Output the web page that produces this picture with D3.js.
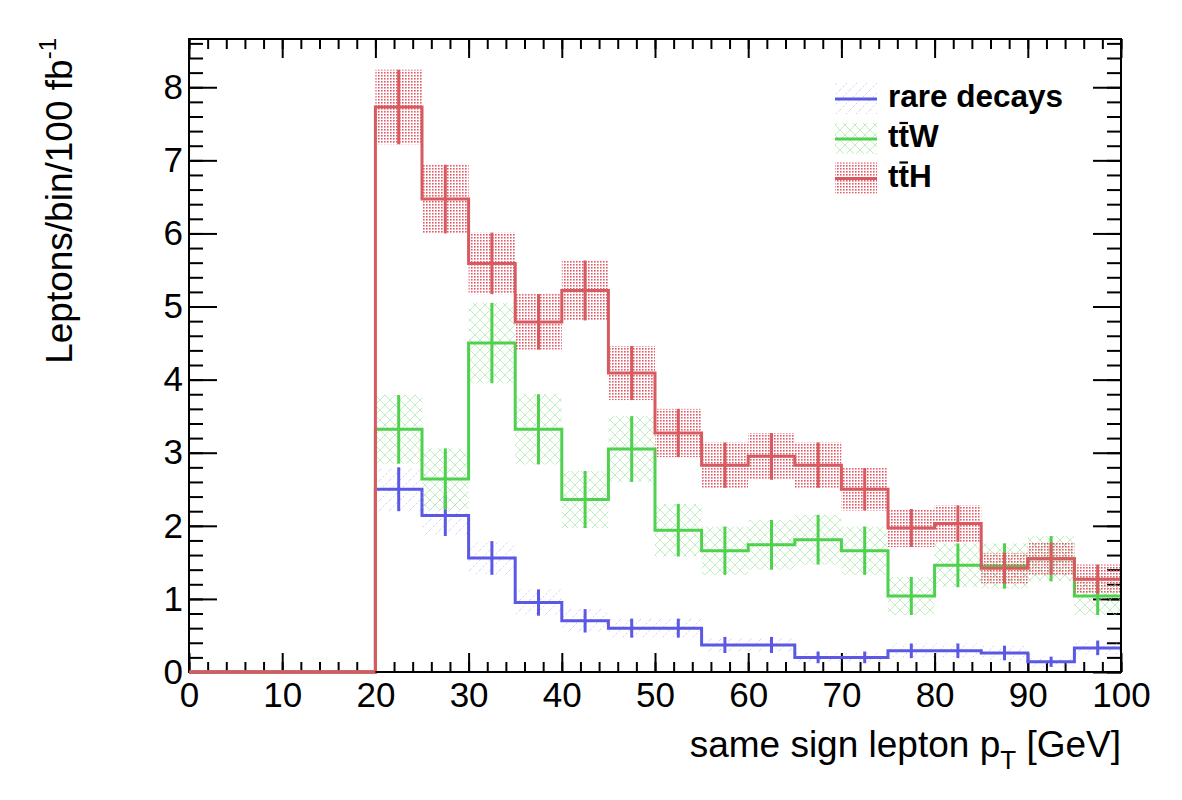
<!DOCTYPE html>
<html><head><meta charset="utf-8">
<script src="https://cdn.jsdelivr.net/npm/d3@7"></script>
<style>
body{margin:0;background:#fff;}
text{font-family:"Liberation Sans",Arial,Helvetica,sans-serif;}
</style></head>
<body><svg id="c" width="1182" height="800"></svg>
<script>
// ---- data ----
const binEdges = [0,5,10,15,20,25,30,35,40,45,50,55,60,65,70,75,80,85,90,95,100];
const rareVals = [0,0,0,0,2.50,2.14,1.56,0.95,0.70,0.60,0.60,0.37,0.37,0.20,0.20,0.29,0.29,0.26,0.14,0.33];
const rareErrs = [0,0,0,0,0.30,0.28,0.23,0.18,0.16,0.13,0.13,0.11,0.11,0.08,0.08,0.10,0.10,0.10,0.07,0.10];
const ttwVals  = [0,0,0,0,3.32,2.64,4.50,3.32,2.36,3.05,1.94,1.66,1.74,1.81,1.66,1.04,1.46,1.45,1.55,1.04];
const ttwErrs  = [0,0,0,0,0.47,0.42,0.55,0.48,0.39,0.45,0.36,0.33,0.34,0.34,0.33,0.26,0.30,0.31,0.31,0.26];
const tthVals  = [0,0,0,0,7.73,6.47,5.59,4.79,5.22,4.09,3.27,2.83,2.95,2.83,2.50,1.97,2.03,1.42,1.55,1.27];
const tthErrs  = [0,0,0,0,0.51,0.47,0.42,0.38,0.41,0.37,0.33,0.31,0.32,0.31,0.29,0.26,0.25,0.21,0.22,0.20];
const seriesNames = ["rare decays","ttW","ttH"];
const xTicks = [0,10,20,30,40,50,60,70,80,90,100];
const yTicks = [0,1,2,3,4,5,6,7,8];
const xTitle = "same sign lepton p";
const yTitle = "Leptons/bin/100 fb";

// ---- layout ----
const L=189,R=1121,T=39,B=672;
const svg=d3.select("#c");
const x=d3.scaleLinear().domain([0,100]).range([L,R]);
const y=d3.scaleLinear().domain([0,8.66]).range([B,T]);

const defs=svg.append("defs");
const pb=defs.append("pattern").attr("id","pBlue").attr("patternUnits","userSpaceOnUse").attr("width",10).attr("height",10);
pb.append("path").attr("d","M0,10L10,0M-2,2L2,-2M8,12L12,8").attr("stroke","#9a9aec").attr("stroke-width",0.8).attr("stroke-dasharray","2,2").attr("fill","none").attr("opacity",0.6);
const pg=defs.append("pattern").attr("id","pGreen").attr("patternUnits","userSpaceOnUse").attr("width",10).attr("height",10);
pg.append("path").attr("d","M0,0L10,10M10,0L0,10").attr("stroke","#8fe08f").attr("stroke-width",0.8).attr("fill","none").attr("opacity",0.7);
const pr=defs.append("pattern").attr("id","pRed").attr("patternUnits","userSpaceOnUse").attr("width",3).attr("height",3);
pr.append("rect").attr("x",0).attr("y",0).attr("width",1.6).attr("height",1.6).attr("fill","#e0505f").attr("opacity",0.95);

const series=[
  {name:seriesNames[0],vals:rareVals,errs:rareErrs,color:"#5a58e4",fill:"url(#pBlue)"},
  {name:seriesNames[1],vals:ttwVals,errs:ttwErrs,color:"#4fd04f",fill:"url(#pGreen)"},
  {name:seriesNames[2],vals:tthVals,errs:tthErrs,color:"#d65a60",fill:"url(#pRed)"}
];

const bins=d3.range(rareVals.length).map(i=>({lo:binEdges[i],hi:binEdges[i+1]}));
const step=d3.line().x(d=>x(d[0])).y(d=>y(d[1])).curve(d3.curveStepAfter);

// ---- axes ticks (ROOT style, inside) ----
const minorX=d3.range(0,100.01,2), minorY=d3.range(0,8.61,0.2).map(v=>+v.toFixed(2));
const ax=svg.append("g");
function tickAxis(gen,tr,vals,size,fmt,pad){
  const g=ax.append("g").attr("transform",tr).call(gen.tickValues(vals).tickSize(size).tickPadding(pad||3).tickFormat(fmt));
  g.select(".domain").remove();
  g.selectAll(".tick line").attr("stroke","#000").attr("stroke-width",2);
  return g;
}
tickAxis(d3.axisBottom(x),`translate(0,${B})`,minorX,-10,()=>"");
const gxb=tickAxis(d3.axisBottom(x),`translate(0,${B})`,xTicks,-19,d3.format("d"),10);
gxb.selectAll("text").attr("font-size",35).attr("fill","#000").attr("font-family","Liberation Sans, Arial, sans-serif");
tickAxis(d3.axisTop(x),`translate(0,${T})`,minorX,-10,()=>"");
tickAxis(d3.axisTop(x),`translate(0,${T})`,xTicks,-19,()=>"");
tickAxis(d3.axisLeft(y),`translate(${L},0)`,minorY,-14,()=>"");
const gyl=tickAxis(d3.axisLeft(y),`translate(${L},0)`,yTicks,-28,d3.format("d"),6);
gyl.selectAll("text").attr("font-size",35).attr("fill","#000").attr("font-family","Liberation Sans, Arial, sans-serif");
tickAxis(d3.axisRight(y),`translate(${R},0)`,minorY,-14,()=>"");
tickAxis(d3.axisRight(y),`translate(${R},0)`,yTicks,-28,()=>"");

// ---- histograms ----
const plot=svg.append("g");
series.forEach(s=>{
  const g=plot.append("g");
  const bd=bins.map((b,i)=>({...b,v:s.vals[i],e:s.errs[i]})).filter(d=>d.v>0);
  g.selectAll("rect.band").data(bd).enter().append("rect").attr("class","band")
    .attr("x",d=>x(d.lo)).attr("width",d=>x(d.hi)-x(d.lo))
    .attr("y",d=>y(d.v+d.e)).attr("height",d=>y(d.v-d.e)-y(d.v+d.e))
    .attr("fill",s.fill);
  const pts=bins.map((b,i)=>[b.lo,s.vals[i]]);
  pts.push([binEdges[binEdges.length-1],s.vals[s.vals.length-1]]);
  g.append("path").attr("d",step(pts)).attr("fill","none").attr("stroke",s.color).attr("stroke-width",3);
  g.selectAll("line.err").data(bd).enter().append("line").attr("class","err")
    .attr("x1",d=>x((d.lo+d.hi)/2)).attr("x2",d=>x((d.lo+d.hi)/2))
    .attr("y1",d=>y(d.v+d.e)).attr("y2",d=>y(d.v-d.e))
    .attr("stroke",s.color).attr("stroke-width",3);
});

// frame
svg.append("rect").attr("x",L).attr("y",T).attr("width",R-L).attr("height",B-T).attr("fill","none").attr("stroke","#000").attr("stroke-width",2);
svg.append("line").attr("x1",x(0)).attr("x2",x(20)).attr("y1",y(0)).attr("y2",y(0)).attr("stroke",series[2].color).attr("stroke-width",3);

// ---- titles ----
const xt=svg.append("text").attr("x",R).attr("y",757).attr("text-anchor","end").attr("font-size",37).attr("fill","#000");
xt.append("tspan").text(xTitle);
xt.append("tspan").attr("font-size",26).attr("dy",12).text("T");
xt.append("tspan").attr("dy",-12).text(" [GeV]");

const yt=svg.append("text").attr("transform","translate(72,38) rotate(-90)").attr("text-anchor","end").attr("font-size",37).attr("fill","#000");
yt.append("tspan").text(yTitle);
yt.append("tspan").attr("font-size",24).attr("dy",-16).text("-1");

// ---- legend ----
const leg=svg.append("g");
const legY=[99,139,178.5];
series.forEach((s,i)=>{
  const cy=legY[i];
  leg.append("rect").attr("x",835).attr("y",cy-16).attr("width",42).attr("height",31).attr("fill",s.fill);
  leg.append("line").attr("x1",835).attr("x2",877).attr("y1",cy).attr("y2",cy).attr("stroke",s.color).attr("stroke-width",3);
  const t=leg.append("text").attr("x",888).attr("y",cy+8).attr("font-size",31.5).attr("font-weight","bold").attr("fill","#000").text(s.name);
  if(i>0){
    const node=t.node();
    const x0=node.getStartPositionOfChar(1).x, x1=node.getEndPositionOfChar(1).x;
    leg.append("line").attr("x1",x0+1).attr("x2",x1-1).attr("y1",cy-16).attr("y2",cy-16).attr("stroke","#000").attr("stroke-width",2.2);
  }
});
</script></body></html>
